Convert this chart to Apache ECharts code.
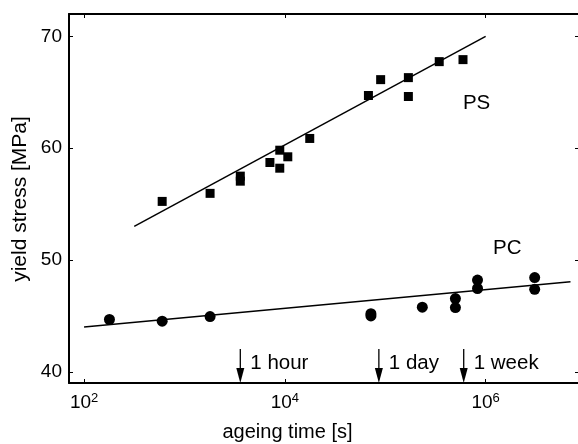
<!DOCTYPE html>
<html><head><meta charset="utf-8">
<script src="https://cdn.jsdelivr.net/npm/echarts@6/dist/echarts.min.js"></script>
<style>html,body{margin:0;padding:0;background:#fff}#c{width:578px;height:444px}</style>
</head><body><div id="c"></div>
<script>
// PS (squares)
const psTime   = [600, 1800, 3600, 3600, 7100, 8900, 8900, 10700, 17700, 68000, 90000, 170000, 170000, 345000, 595000];
const psStress = [55.24, 55.96, 57.5, 57.05, 58.72, 59.82, 58.21, 59.23, 60.87, 64.71, 66.13, 66.31, 64.62, 67.74, 67.92];
// PC (circles)
const pcTime   = [179, 600, 1800, 72000, 72000, 234000, 500000, 500000, 830000, 830000, 3080000, 3080000];
const pcStress = [44.68, 44.53, 44.94, 45.2, 45.0, 45.78, 46.55, 45.75, 48.21, 47.45, 48.43, 47.38];
// fit lines (endpoints)
const psFitTime = [316, 1000000];
const psFitStress = [53.0, 70.0];
const pcFitTime = [100, 7000000];
const pcFitStress = [44.0, 48.05];
// annotations
const arrowTime  = [3600, 86400, 604800];
const arrowLabel = ['1 hour', '1 day', '1 week'];
const arrowTopStress = 42.05;
const seriesLabels = ['PS', 'PC'];
const seriesLabelTime = [813000, 1640000];
const seriesLabelStress = [64.05, 51.02];

const xMin = Math.pow(10, 1.85), xMax = Math.pow(10, 6.92);
const yMin = 39, yMax = 72;
const FONT = '"Liberation Sans", Arial, Helvetica, sans-serif';

const zip = (a, b) => a.map((v, i) => [v, b[i]]);

const chart = echarts.init(document.getElementById('c'), null, {renderer: 'canvas'});

const supLabel = v => {
  const e = Math.round(Math.log10(v));
  return '{b|10}{s|' + e + '}';
};

// log axis with base 100 -> one major tick every two decades (10^2, 10^4, 10^6)
const common = {
  min: xMin, max: xMax, type: 'log', logBase: 100, splitNumber: 3,
  splitLine: {show: false},
  axisLine: {show: true, onZero: false, lineStyle: {color: '#000', width: 2}},
  axisTick: {show: true, inside: true, length: 4, lineStyle: {color: '#000', width: 1}},
  minorTick: {show: false}
};

chart.setOption({
  animation: false,
  backgroundColor: '#fff',
  grid: {left: 69, top: 14, right: 0, bottom: 61, containLabel: false},
  xAxis: [
    Object.assign({}, common, {
      position: 'bottom',
      axisLabel: {
        show: true, margin: 9, color: '#000', fontFamily: FONT,
        showMinLabel: false, showMaxLabel: false,
        formatter: supLabel,
        rich: {
          b: {fontSize: 19, fontFamily: FONT, color: '#000'},
          s: {fontSize: 13, fontFamily: FONT, color: '#000', verticalAlign: 'top', padding: [0, 0, 9, 0]}
        }
      }
    }),
    Object.assign({}, common, {position: 'top', axisLabel: {show: false}})
  ],
  yAxis: [
    {
      type: 'value', min: yMin, max: yMax, splitNumber: 3, position: 'left',
      splitLine: {show: false},
      axisLine: {show: true, onZero: false, lineStyle: {color: '#000', width: 2}},
      axisTick: {show: true, inside: true, length: 4, lineStyle: {color: '#000', width: 1}},
      axisLabel: {color: '#000', fontSize: 19, fontFamily: FONT, margin: 7, showMinLabel: false, showMaxLabel: false}
    },
    {
      type: 'value', min: yMin, max: yMax, splitNumber: 3, position: 'right',
      splitLine: {show: false},
      axisLine: {show: false},
      axisTick: {show: true, inside: true, length: 3, lineStyle: {color: '#000', width: 1}},
      axisLabel: {show: false}
    }
  ],
  graphic: [
    {type: 'text', x: 287.5, y: 432, style: {text: 'ageing time [s]', x: 0, y: 0, fill: '#000', fontSize: 20, fontFamily: FONT, textAlign: 'center', textVerticalAlign: 'middle'}},
    {type: 'text', rotation: Math.PI / 2, x: 20, y: 199, style: {text: 'yield stress [MPa]', x: 0, y: 0, fill: '#000', fontSize: 21, fontFamily: FONT, textAlign: 'center', textVerticalAlign: 'middle'}}
  ],
  series: [
    {type: 'line', data: zip(psFitTime, psFitStress), symbol: 'none', lineStyle: {color: '#000', width: 1.5}, silent: true},
    {type: 'line', data: zip(pcFitTime, pcFitStress), symbol: 'none', lineStyle: {color: '#000', width: 1.5}, silent: true},
    {type: 'scatter', data: zip(psTime, psStress), symbol: 'rect', symbolSize: 9, itemStyle: {color: '#000', opacity: 1}},
    {type: 'scatter', data: zip(pcTime, pcStress), symbol: 'circle', symbolSize: 11, itemStyle: {color: '#000', opacity: 1}},
    {
      type: 'custom',
      data: arrowTime.map((t, i) => [t, i]),
      clip: false,
      renderItem: function (params, api) {
        const t = api.value(0), i = api.value(1);
        const top = api.coord([t, arrowTopStress]);
        const bot = api.coord([t, yMin]);
        const headLen = 15, hw = 4;
        return {
          type: 'group',
          children: [
            {type: 'line', shape: {x1: top[0], y1: top[1], x2: bot[0], y2: bot[1] - headLen + 1}, style: {stroke: '#000', lineWidth: 1.3}},
            {type: 'polygon', shape: {points: [[bot[0] - hw, bot[1] - headLen], [bot[0] + hw, bot[1] - headLen], [bot[0], bot[1]]]}, style: {fill: '#000'}},
            {type: 'text', style: {text: arrowLabel[i], x: top[0] + 10, y: top[1] + 14.5, fill: '#000', fontSize: 20.5, fontFamily: FONT, textAlign: 'left', textVerticalAlign: 'middle'}}
          ]
        };
      }
    },
    {
      type: 'custom',
      data: seriesLabelTime.map((t, i) => [t, seriesLabelStress[i], i]),
      clip: false,
      renderItem: function (params, api) {
        const p = api.coord([api.value(0), api.value(1)]);
        return {type: 'text', style: {text: seriesLabels[api.value(2)], x: p[0], y: p[1], fill: '#000', fontSize: 20.5, fontFamily: FONT, textAlign: 'center', textVerticalAlign: 'middle'}};
      }
    }
  ]
});
</script>
</body></html>
